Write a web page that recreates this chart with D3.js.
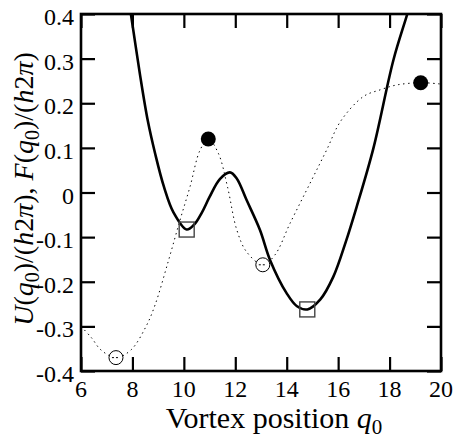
<!DOCTYPE html>
<html>
<head>
<meta charset="utf-8">
<script src="https://cdn.jsdelivr.net/npm/d3@7"></script>
<style>
  body { margin: 0; background: #fff; }
</style>
</head>
<body>
<div class="chart"></div>
<script>
// Potential U(q0) (solid)
const uQ = [7.70, 7.94, 8.30, 8.60, 8.88, 9.23, 9.60, 10.11, 10.40, 10.70, 11.00, 11.40, 11.79, 12.05, 12.44, 12.96, 13.35, 14.00, 14.40, 14.80, 15.30, 15.81, 16.30, 16.72, 17.37, 18.15, 18.69, 19.10]
const uVal = [0.49, 0.40, 0.262, 0.160, 0.088, 0.012, -0.045, -0.083, -0.072, -0.045, -0.010, 0.030, 0.045, 0.032, -0.017, -0.084, -0.151, -0.226, -0.255, -0.262, -0.240, -0.189, -0.110, -0.032, 0.099, 0.297, 0.40, 0.48]

// Free energy F(q0) (dotted)
const fQ = [6.00, 6.40, 6.78, 7.36, 7.94, 8.53, 8.88, 9.40, 9.85, 10.24, 10.63, 10.95, 11.34, 11.70, 12.06, 12.44, 13.07, 13.54, 14.13, 14.97, 15.55, 16.10, 16.98, 17.63, 18.28, 19.21, 20.00]
const fVal = [-0.300, -0.325, -0.353, -0.370, -0.353, -0.300, -0.252, -0.153, -0.062, 0.013, 0.095, 0.120, 0.088, 0.012, -0.084, -0.133, -0.162, -0.140, -0.069, 0.028, 0.095, 0.160, 0.215, 0.230, 0.241, 0.246, 0.243]

// Markers
const squareQ = [10.11, 14.80]
const squareVal = [-0.083, -0.262]
const openQ = [7.36, 13.07]
const openVal = [-0.370, -0.162]
const filledQ = [10.95, 19.21]
const filledVal = [0.120, 0.246]

const xTicks = [6, 8, 10, 12, 14, 16, 18, 20]
const yTicks = [0.4, 0.3, 0.2, 0.1, 0, -0.1, -0.2, -0.3, -0.4]

const serif = "'Liberation Serif', serif"

// inline style so nothing else overrides the face
const face = (sel, size) => sel
  .style('font-family', serif, 'important')
  .style('font-size', size + 'px', 'important')

const width = 454
const height = 446
const margin = { top: 14, right: 13, bottom: 75, left: 81 }
const innerWidth = width - margin.left - margin.right
const innerHeight = height - margin.top - margin.bottom

const svg = d3.select('.chart')
  .append('svg')
  .attr('width', width)
  .attr('height', height)

const g = svg.append('g')
  .attr('transform', `translate(${margin.left},${margin.top})`)

const x = d3.scaleLinear().domain([6, 20]).range([0, innerWidth])
const y = d3.scaleLinear().domain([-0.4, 0.4]).range([innerHeight, 0])

g.append('clipPath').attr('id', 'plotclip')
  .append('rect')
  .attr('width', innerWidth)
  .attr('height', innerHeight)

const line = d3.line()
  .x(d => x(d[0]))
  .y(d => y(d[1]))
  .curve(d3.curveCatmullRom.alpha(0.5))

const plot = g.append('g').attr('clip-path', 'url(#plotclip)')

// dotted F curve
plot.append('path')
  .datum(fQ.map((q, i) => [q, fVal[i]]))
  .attr('d', line)
  .attr('fill', 'none')
  .attr('stroke', '#000')
  .attr('stroke-width', 1)
  .attr('stroke-dasharray', '1.4,3.6')

// solid U curve
plot.append('path')
  .datum(uQ.map((q, i) => [q, uVal[i]]))
  .attr('d', line)
  .attr('fill', 'none')
  .attr('stroke', '#000')
  .attr('stroke-width', 2.6)

// squares
plot.selectAll('.sq')
  .data(squareQ.map((q, i) => [q, squareVal[i]]))
  .enter()
  .append('rect')
  .attr('x', d => x(d[0]) - 7.5)
  .attr('y', d => y(d[1]) - 7.5)
  .attr('width', 15)
  .attr('height', 15)
  .attr('fill', 'none')
  .attr('stroke', '#444')
  .attr('stroke-width', 1.4)

// open circles with a little dash
const open = plot.selectAll('.oc')
  .data(openQ.map((q, i) => [q, openVal[i]]))
  .enter()
  .append('g')
  .attr('transform', d => `translate(${x(d[0])},${y(d[1])})`)

open.append('circle')
  .attr('r', 7)
  .attr('fill', '#fff')
  .attr('stroke', '#000')
  .attr('stroke-width', 1)

open.append('line')
  .attr('x1', -4).attr('x2', 4)
  .attr('stroke', '#000')
  .attr('stroke-width', 1)
  .attr('stroke-dasharray', '2,2')

// filled circles
plot.selectAll('.fc')
  .data(filledQ.map((q, i) => [q, filledVal[i]]))
  .enter()
  .append('circle')
  .attr('cx', d => x(d[0]))
  .attr('cy', d => y(d[1]))
  .attr('r', 7.5)
  .attr('fill', '#000')

// axes, ticks inward on all four sides
const tickLen = 14
g.append('g')
  .attr('transform', `translate(0,${innerHeight})`)
  .call(d3.axisBottom(x).tickValues(xTicks).tickSize(-tickLen).tickSizeOuter(0).tickFormat(''))
g.append('g')
  .call(d3.axisTop(x).tickValues(xTicks).tickSize(-tickLen).tickSizeOuter(0).tickFormat(''))
g.append('g')
  .call(d3.axisLeft(y).tickValues(yTicks).tickSize(-tickLen).tickSizeOuter(0).tickFormat(''))
g.append('g')
  .attr('transform', `translate(${innerWidth},0)`)
  .call(d3.axisRight(y).tickValues(yTicks).tickSize(-tickLen).tickSizeOuter(0).tickFormat(''))

g.selectAll('.domain').remove()
g.selectAll('.tick line').attr('stroke', '#000').attr('stroke-width', 2.2)
g.selectAll('.tick text').remove()

g.append('rect')
  .attr('width', innerWidth)
  .attr('height', innerHeight)
  .attr('fill', 'none')
  .attr('stroke', '#000')
  .attr('stroke-width', 2.6)

// tick labels
g.selectAll('.xlab')
  .data(xTicks)
  .enter()
  .append('text')
  .attr('x', d => x(d))
  .attr('y', innerHeight + 26)
  .attr('text-anchor', 'middle')
  .call(face, 24)
  .text(d => d)

g.selectAll('.ylab')
  .data(yTicks)
  .enter()
  .append('text')
  .attr('x', -7)
  .attr('y', d => y(d) + 11)
  .attr('text-anchor', 'end')
  .call(face, 24)
  .text(d => d === 0 ? '0' : d3.format('.1f')(d).replace('−', '-'))

// x title
const xt = svg.append('text')
  .attr('x', 274)
  .attr('y', 428)
  .attr('text-anchor', 'middle')
  .call(face, 30)
xt.append('tspan').call(face, 30).text('Vortex position ')
xt.append('tspan').call(face, 30).style('font-style', 'italic').text('q')
xt.append('tspan').attr('dy', 6).call(face, 21).text('0')

// y title
const yt = svg.append('text')
  .attr('transform', 'translate(33,189) rotate(-90)')
  .attr('text-anchor', 'middle')
  .call(face, 28)
const yParts = [
  ['U', true], ['(', false], ['q', true], ['0', false, 'sub'], [')/(', false],
  ['h', true], ['2', false], ['π', true], ['), ', false],
  ['F', true], ['(', false], ['q', true], ['0', false, 'sub'], [')/(', false],
  ['h', true], ['2', false], ['π', true], [')', false]
]
let shifted = false
yParts.forEach(p => {
  const t = yt.append('tspan').call(face, 28).text(p[0])
  if (p[1]) t.style('font-style', 'italic')
  if (p[2] === 'sub') {
    t.attr('dy', 6).call(face, 20)
    shifted = true
  } else if (shifted) {
    t.attr('dy', -6)
    shifted = false
  }
})
</script>
</body>
</html>
